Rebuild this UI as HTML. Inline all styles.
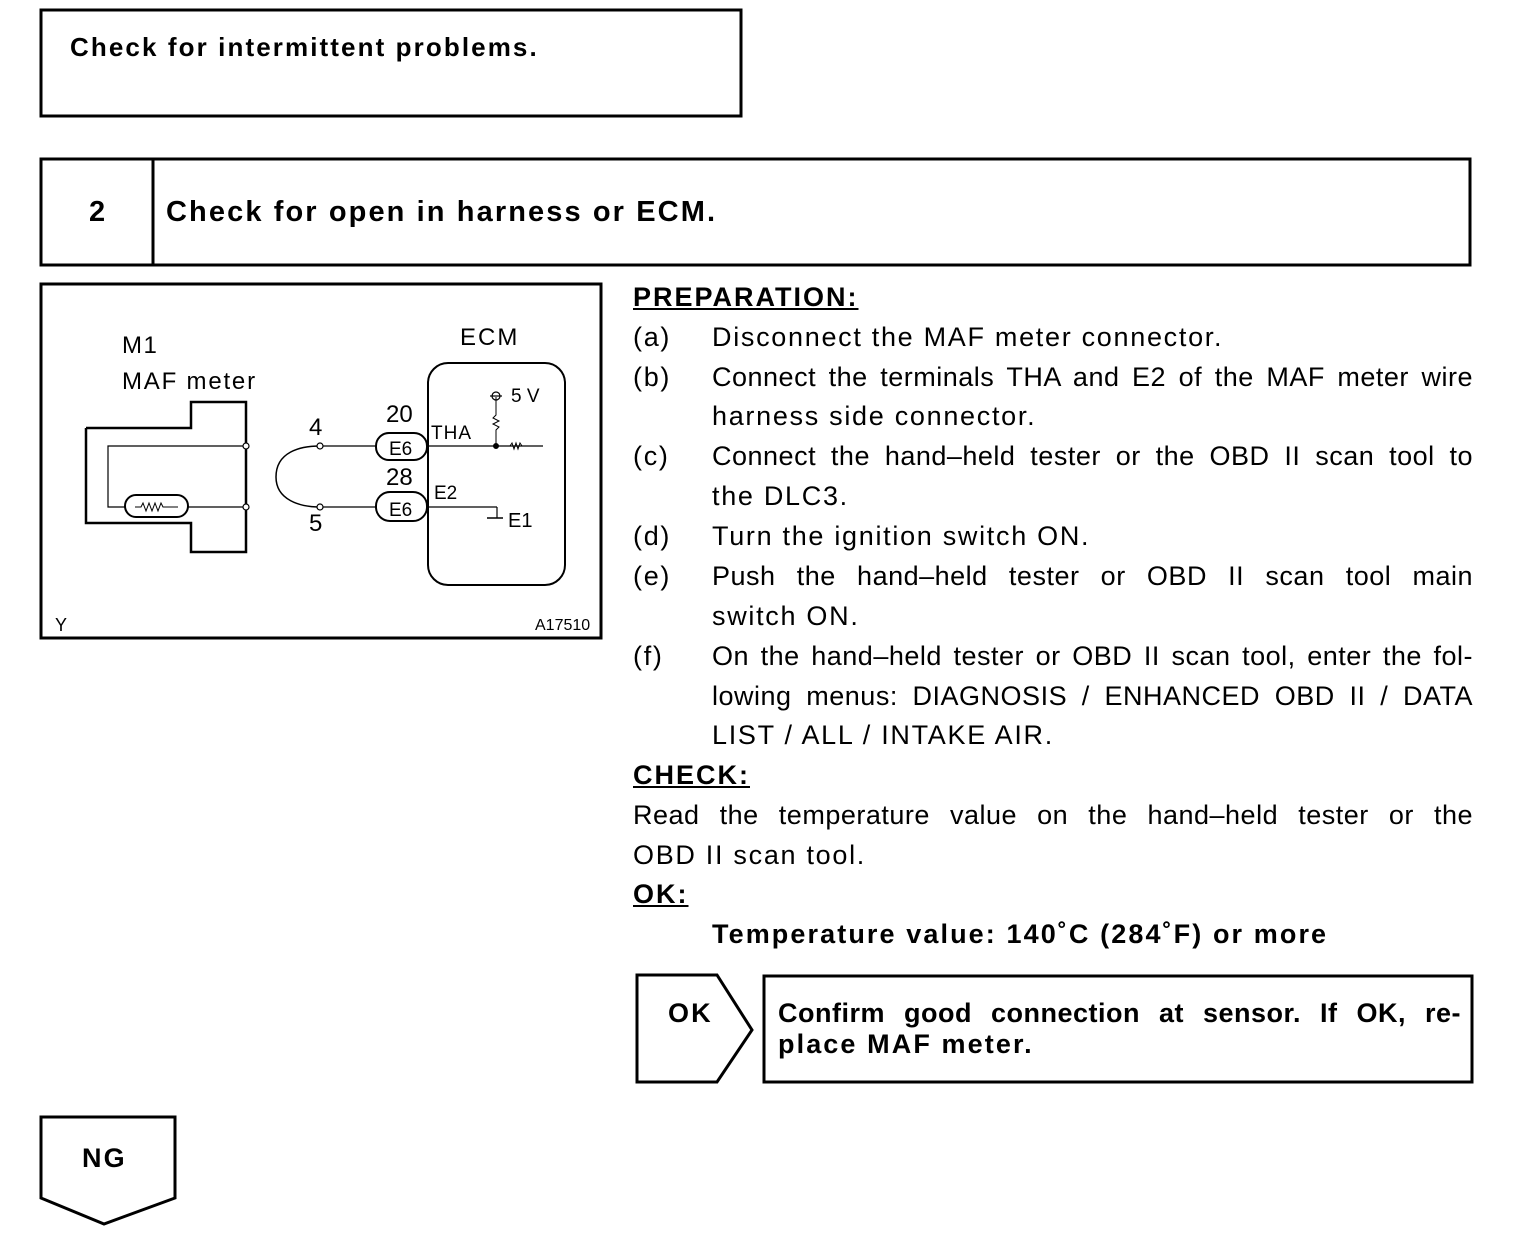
<!DOCTYPE html>
<html><head><meta charset="utf-8"><style>
body{margin:0;width:1520px;height:1242px;background:#fff;position:relative;font-family:"Liberation Sans",sans-serif;color:#000;overflow:hidden}
.t{position:absolute;font-size:27px;line-height:32px;white-space:nowrap;letter-spacing:1.7px}
.j{text-align:justify;text-align-last:justify;white-space:normal;letter-spacing:0.5px}
.b{font-weight:bold;letter-spacing:2.1px}
.b.j{letter-spacing:0.5px}
.u{text-decoration:underline;font-weight:bold;letter-spacing:2px}
svg{position:absolute;left:0;top:0}
.s{font-family:"Liberation Sans",sans-serif}
</style></head><body>
<svg width="1520" height="1242" viewBox="0 0 1520 1242">
<g fill="none" stroke="#000">
<rect x="41" y="10" width="700" height="106" stroke-width="3"/>
<rect x="41" y="159" width="1429" height="106" stroke-width="3"/>
<line x1="153" y1="159" x2="153" y2="265" stroke-width="3"/>
<rect x="41" y="284" width="560" height="354" stroke-width="3"/>
<polygon points="637,975 717,975 752,1030 717,1082 637,1082" stroke-width="3"/>
<rect x="764" y="976" width="708" height="106" stroke-width="3"/>
<polygon points="41,1117 175,1117 175,1198 104,1224 41,1198" stroke-width="3"/>
<polyline points="86,428 191,428 191,402 246,402 246,552 191,552 191,523 86,523 86,428" stroke-width="2.5"/>
<polyline points="246,446 108,446 108,507 125,507" stroke-width="1.2"/>
<line x1="188" y1="507" x2="246" y2="507" stroke-width="1.2"/>
<rect x="125" y="495" width="63" height="22" rx="11" stroke-width="2"/>
<polyline points="135,507 141,507 143,503 146,511 149,503 152,511 155,503 158,511 161,503 163,507 178,507" stroke-width="1"/>
<circle cx="246" cy="446" r="3" fill="#fff" stroke-width="1.2"/>
<circle cx="246" cy="507" r="3" fill="#fff" stroke-width="1.2"/>
<path d="M320,446 C300,446 276,452 276,477 C276,500 300,507 320,507" stroke-width="1.5"/>
<line x1="320" y1="446" x2="376" y2="446" stroke-width="1.2"/>
<line x1="320" y1="507" x2="376" y2="507" stroke-width="1.2"/>
<circle cx="320" cy="446" r="3" fill="#fff" stroke-width="1.2"/>
<circle cx="320" cy="507" r="3" fill="#fff" stroke-width="1.2"/>
<rect x="376" y="433" width="51" height="27" rx="13" stroke-width="2"/>
<rect x="376" y="492" width="51" height="29" rx="14" stroke-width="2"/>
<rect x="428" y="363" width="137" height="222" rx="20" stroke-width="2"/>
<line x1="427" y1="446" x2="543" y2="446" stroke-width="1.2"/>
<polyline points="496,397 496,415 493,418 499,421 493,424 499,427 496,430 496,446" stroke-width="1"/>
<circle cx="496" cy="396" r="4" stroke-width="1.2"/>
<line x1="490" y1="396" x2="502" y2="396" stroke-width="1.2"/>
<circle cx="496" cy="446" r="2.5" fill="#000"/>
<polyline points="510,446 512,443 514,449 516,443 518,449 520,443 522,446" stroke-width="1"/>
<line x1="427" y1="507" x2="497" y2="507" stroke-width="1.2"/>
<line x1="497" y1="507" x2="497" y2="518" stroke-width="1.2"/>
<line x1="487" y1="518" x2="503" y2="518" stroke-width="1.5"/>
</g>
<g class="s" fill="#000">
<text x="122" y="353" font-size="24" letter-spacing="1.5">M1</text>
<text x="122" y="389" font-size="24" letter-spacing="1.8">MAF meter</text>
<text x="460" y="345" font-size="24" letter-spacing="2">ECM</text>
<text x="309" y="435" font-size="24">4</text>
<text x="309" y="531" font-size="24">5</text>
<text x="386" y="422" font-size="24">20</text>
<text x="386" y="485" font-size="24">28</text>
<text x="389" y="455" font-size="19">E6</text>
<text x="389" y="516" font-size="19">E6</text>
<text x="431" y="439" font-size="19" letter-spacing="1">THA</text>
<text x="434" y="499" font-size="19">E2</text>
<text x="511" y="402" font-size="19">5 V</text>
<text x="508" y="527" font-size="20">E1</text>
<text x="55" y="631" font-size="18">Y</text>
<text x="535" y="630" font-size="16">A17510</text>
</g>
</svg>
<div class="t b" style="left:70px;top:31px;font-size:26px">Check for intermittent problems.</div>
<div class="t b" style="left:89px;top:196px;font-size:29px">2</div>
<div class="t b" style="left:166px;top:196px;font-size:29px">Check for open in harness or ECM.</div>

<div class="t u" style="left:633px;top:281px">PREPARATION:</div>
<div class="t" style="left:633px;top:321px">(a)</div><div class="t" style="left:712px;top:321px">Disconnect the MAF meter connector.</div>
<div class="t" style="left:633px;top:361px">(b)</div><div class="t j" style="left:712px;top:361px;width:761px">Connect the terminals THA and E2 of the MAF meter wire</div>
<div class="t" style="left:712px;top:400px">harness side connector.</div>
<div class="t" style="left:633px;top:440px">(c)</div><div class="t j" style="left:712px;top:440px;width:761px">Connect the hand–held tester or the OBD II scan tool to</div>
<div class="t" style="left:712px;top:480px">the DLC3.</div>
<div class="t" style="left:633px;top:520px">(d)</div><div class="t" style="left:712px;top:520px">Turn the ignition switch ON.</div>
<div class="t" style="left:633px;top:560px">(e)</div><div class="t j" style="left:712px;top:560px;width:761px">Push the hand–held tester or OBD II scan tool main</div>
<div class="t" style="left:712px;top:600px">switch ON.</div>
<div class="t" style="left:633px;top:640px">(f)</div><div class="t j" style="left:712px;top:640px;width:761px">On the hand–held tester or OBD II scan tool, enter the fol-</div>
<div class="t j" style="left:712px;top:680px;width:761px">lowing menus: DIAGNOSIS / ENHANCED OBD II / DATA</div>
<div class="t" style="left:712px;top:719px">LIST / ALL / INTAKE AIR.</div>
<div class="t u" style="left:633px;top:759px">CHECK:</div>
<div class="t j" style="left:633px;top:799px;width:840px">Read the temperature value on the hand–held tester or the</div>
<div class="t" style="left:633px;top:839px">OBD II scan tool.</div>
<div class="t u" style="left:633px;top:878px">OK:</div>
<div class="t b" style="left:712px;top:918px">Temperature value: 140˚C (284˚F) or more</div>
<div class="t b" style="left:668px;top:997px">OK</div>
<div class="t b j" style="left:778px;top:997px;width:683px">Confirm good connection at sensor. If OK, re-</div>
<div class="t b" style="left:778px;top:1028px">place MAF meter.</div>
<div class="t b" style="left:82px;top:1142px">NG</div>
</body></html>
